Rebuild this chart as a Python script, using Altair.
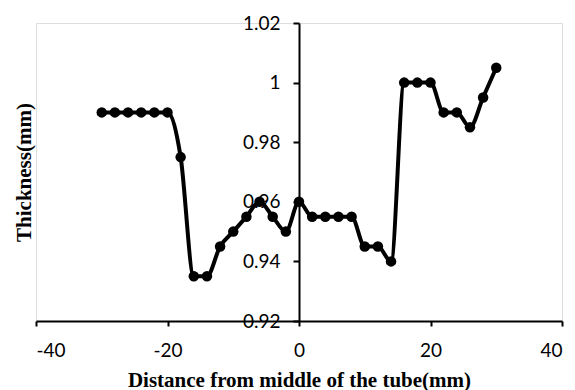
import altair as alt
import pandas as pd

x_mm = [-30, -28, -26, -24, -22, -20, -18, -16, -14, -12, -10, -8, -6, -4, -2, 0,
        2, 4, 6, 8, 10, 12, 14, 16, 18, 20, 22, 24, 26, 28, 30]
thickness = [0.99, 0.99, 0.99, 0.99, 0.99, 0.99, 0.975, 0.935, 0.935, 0.945, 0.95,
             0.955, 0.96, 0.955, 0.95, 0.96, 0.955, 0.955, 0.955, 0.955, 0.945,
             0.945, 0.94, 1.0, 1.0, 1.0, 0.99, 0.99, 0.985, 0.995, 1.005]
x_ticks = [-40, -20, 0, 20, 40]
y_ticks = [0.92, 0.94, 0.96, 0.98, 1.0, 1.02]

df = pd.DataFrame({"x": x_mm, "y": thickness})

W, H = 526, 298

x_enc = alt.X(
    "x:Q",
    scale=alt.Scale(domain=[-40, 40], nice=False, zero=False),
    axis=alt.Axis(
        values=x_ticks, labelExpr="toString(datum.value)",
        title="Distance from middle of the tube(mm)",
        grid=False, domainColor="black", domainWidth=2, tickColor="black",
        tickWidth=2, tickSize=5, labelPadding=15, labelFont="Lato",
        labelFontSize=19, labelColor="black", titleFont="Liberation Serif",
        titleFontSize=21, titleFontWeight="bold", titleColor="black",
        titleBaseline="alphabetic", titleY=65,
    ),
)
y_enc = alt.Y(
    "y:Q",
    scale=alt.Scale(domain=[0.92, 1.02], nice=False, zero=False),
    axis=alt.Axis(
        values=y_ticks, format=".2~f", title="Thickness(mm)", offset=-W / 2,
        grid=False, domainColor="black", domainWidth=2, tickColor="black",
        tickWidth=2, tickSize=6, labelPadding=13, labelFont="Lato",
        labelFontSize=19, labelColor="black", titleFont="Liberation Serif",
        titleFontSize=21, titleFontWeight="bold", titleColor="black",
        titleBaseline="alphabetic", titleX=-W / 2 - 6, titleY=H / 2,
        titleAlign="center", titleAngle=-90,
    ),
)

line = alt.Chart(df).mark_line(
    color="black", strokeWidth=4, interpolate="monotone"
).encode(x=x_enc, y=y_enc)
pts = alt.Chart(df).mark_point(
    filled=True, color="black", size=110, opacity=1
).encode(x="x:Q", y="y:Q")

chart = (line + pts).properties(
    width=W, height=H,
    autosize=alt.AutoSizeParams(type="none"),
    padding={"left": 28, "top": 15, "right": 5, "bottom": 76},
).configure_view(stroke=None).configure(background="white")

chart.save("out.html", embed_options={"renderer": "svg", "actions": False})
